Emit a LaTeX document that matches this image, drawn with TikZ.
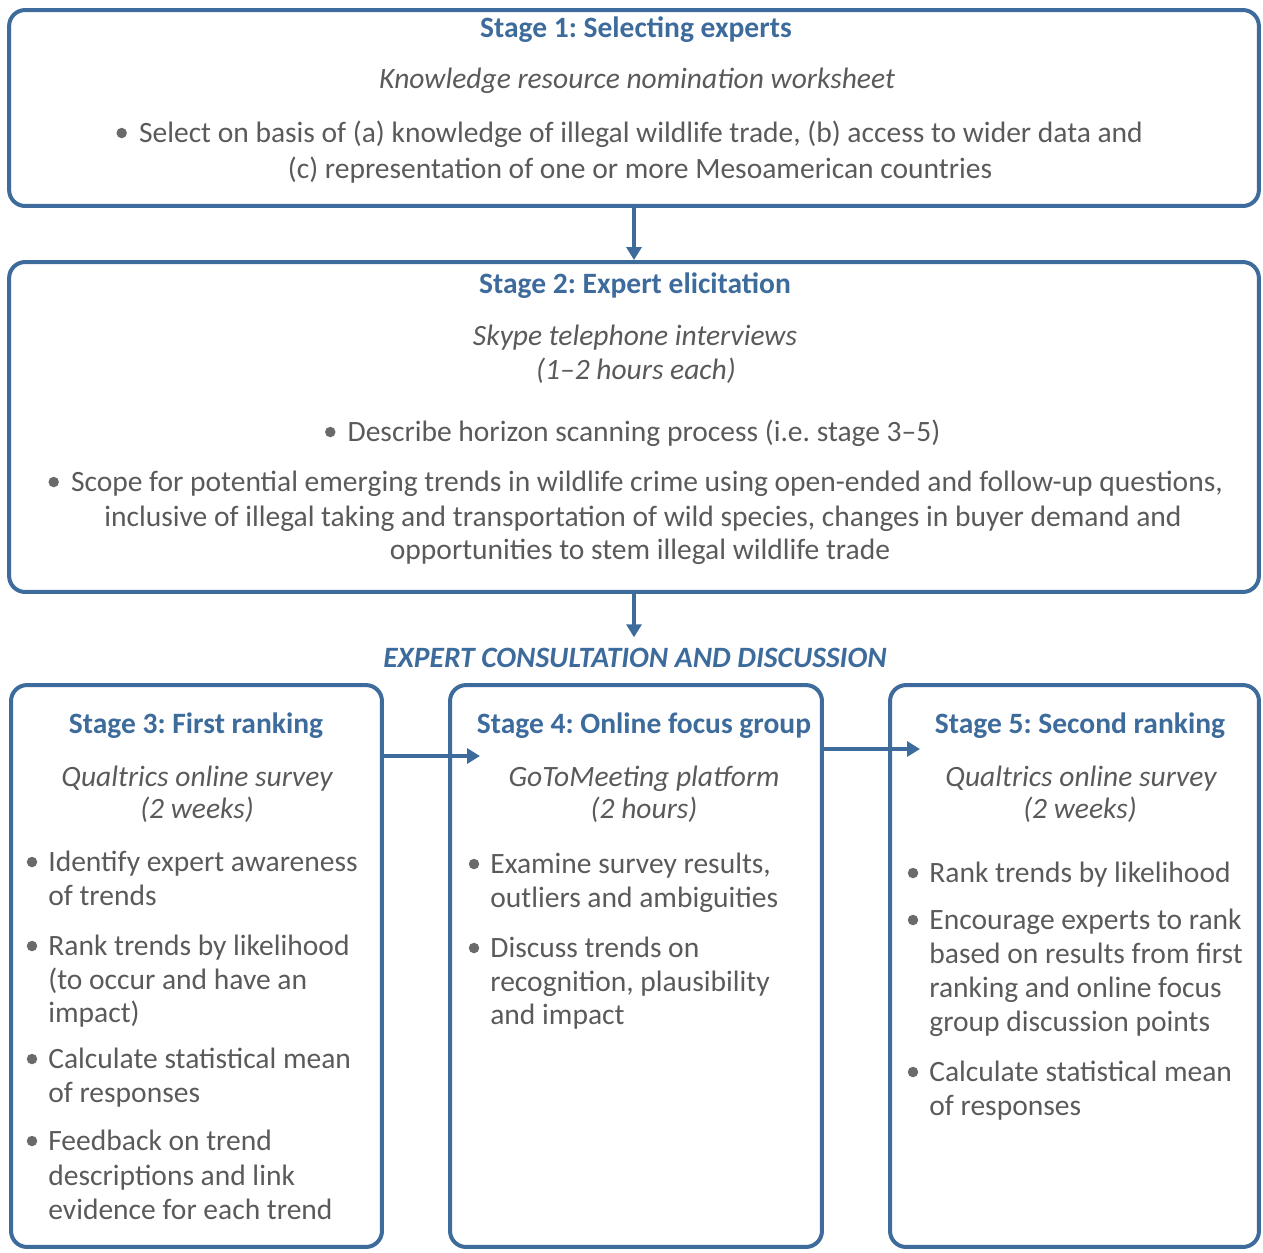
\documentclass[tikz,border=0pt]{standalone}
\usepackage{fontspec}
\setmainfont{Carlito}
\frenchspacing
\usetikzlibrary{arrows.meta,calc}
\definecolor{stageblue}{HTML}{3D6B9C}
\definecolor{textgrey}{HTML}{5A5A5A}
\definecolor{dotgrey}{HTML}{6A6A6A}
\newcommand{\boxfont}{\fontsize{16.8}{20}\selectfont}
\tikzset{
  stagebox/.style={draw=stageblue, line width=0.08cm, rounded corners=0.32cm, inner sep=0pt},
  stagetitle/.style={anchor=base, inner sep=0pt, text=stageblue, font=\bfseries\boxfont},
  method/.style={anchor=base, inner sep=0pt, text=textgrey, font=\itshape\boxfont},
  line/.style={anchor=base west, inner sep=0pt, text=textgrey, font=\boxfont},
  cline/.style={line, anchor=base},
  flow/.style={-{Triangle[length=0.26cm,width=0.3cm]}, line width=0.08cm, draw=stageblue},
}

\begin{document}
\begin{tikzpicture}[x=0.02cm, y=-0.02cm]

\useasboundingbox (0,0) rectangle (1263,1252);

%%%%%%%%%%%%%%
% Boxes
%%%%%%%%%%%%%%
  \node[stagebox, minimum width=25cm, minimum height=3.92cm] (s1) at (634,108) {};
  \node[stagebox, minimum width=25cm, minimum height=6.6cm] (s2) at (634,427) {};
  \node[stagebox, minimum width=7.42cm, minimum height=11.24cm] (s3) at (196.5,966) {};
  \node[stagebox, minimum width=7.44cm, minimum height=11.24cm] (s4) at (636,966) {};
  \node[stagebox, minimum width=7.38cm, minimum height=11.24cm] (s5) at (1074.5,966) {};

%%%%%%%%%%%%%%
% Stage 1
%%%%%%%%%%%%%%
  \node[stagetitle] (t1) at (636,37) {Stage 1: Selecting experts};
  \node[method] (m1) at (637,88) {Knowledge resource nomination worksheet};
  \node[cline] (b1-1) at (641,142)
        {Select on basis of (a) knowledge of illegal wildlife trade, (b) access to wider data and};
  \node[cline] (b1-2) at (640,178) {(c) representation of one or more Mesoamerican countries};

  % dots
  \fill[dotgrey] ($(b1-1.base west)+(-17,-9)$) circle (0.105cm);

%%%%%%%%%%%%%%
% Stage 2
%%%%%%%%%%%%%%
  \node[stagetitle] (t2) at (635,293) {Stage 2: Expert elicitation};
  \node[method] (m2) at (635,345) {Skype telephone interviews};
  \node[method] (m2b) at (636,379) {(1--2 hours each)};
  \node[cline] (b2-1) at (644,441) {Describe horizon scanning process (i.e. stage 3--5)};
  \node[cline] (b2-2) at (647,491)
        {Scope for potential emerging trends in wildlife crime using open-ended and follow-up questions,};
  \node[cline] (b2-3) at (643,526)
        {inclusive of illegal taking and transportation of wild species, changes in buyer demand and};
  \node[cline] (b2-4) at (640,559) {opportunities to stem illegal wildlife trade};

  % dots
  \fill[dotgrey] ($(b2-1.base west)+(-17,-9)$) circle (0.105cm);
  \fill[dotgrey] ($(b2-2.base west)+(-17,-9)$) circle (0.105cm);

%%%%%%%%%%%%%%
% Expert consultation
%%%%%%%%%%%%%%
  \node[stagetitle, font=\bfseries\itshape\boxfont] (phase) at (635,667)
        {EXPERT CONSULTATION AND DISCUSSION};

% Stage 3
  \node[stagetitle] (t3) at (196,733) {Stage 3: First ranking};
  \node[method] (m3) at (197,786) {Qualtrics online survey};
  \node[method] (m3b) at (197,818) {(2 weeks)};
  \foreach \n/\y/\t in {1/871/Identify expert awareness, 2/905/of trends,
      3/955/Rank trends by likelihood, 4/989/(to occur and have an, 5/1022/impact),
      6/1068/Calculate statistical mean, 7/1102/of responses, 8/1150/Feedback on trend,
      9/1185/descriptions and link, 10/1219/evidence for each trend}
    \node[line] (b3-\n) at (48,\y) {\t};

  % dots
  \foreach \n in {1,3,6,8}
    \fill[dotgrey] ($(b3-\n.base west)+(-16,-9)$) circle (0.105cm);

% Stage 4
  \node[stagetitle] (t4) at (644,733) {Stage 4: Online focus group};
  \node[method] (m4) at (644,786) {GoToMeeting platform};
  \node[method] (m4b) at (644,818) {(2 hours)};
  \foreach \n/\y/\t in {1/873/{Examine survey results,}, 2/907/outliers and ambiguities,
      3/957/Discuss trends on, 4/991/{recognition, plausibility}, 5/1024/and impact}
    \node[line] (b4-\n) at (490,\y) {\t};

  % dots
  \foreach \n in {1,3}
    \fill[dotgrey] ($(b4-\n.base west)+(-16,-9)$) circle (0.105cm);

% Stage 5
  \node[stagetitle] (t5) at (1080,733) {Stage 5: Second ranking};
  \node[method] (m5) at (1081,786) {Qualtrics online survey};
  \node[method] (m5b) at (1080,818) {(2 weeks)};
  \foreach \n/\y/\t in {1/882/Rank trends by likelihood, 2/929/Encourage experts to rank,
      3/963/based on results from first, 4/997/ranking and online focus,
      5/1031/group discussion points, 6/1081/Calculate statistical mean,
      7/1115/of responses}
    \node[line] (b5-\n) at (929,\y) {\t};

  % dots
  \foreach \n in {1,2,6}
    \fill[dotgrey] ($(b5-\n.base west)+(-16,-9)$) circle (0.105cm);

%%%%%%%%%%%%%%
% Arrows
%%%%%%%%%%%%%%
  \coordinate (in4) at (480,756);
  \coordinate (in5) at (920,749);

  \draw[flow] (s1.south) -> (s2.north);
  \draw[flow] (s2.south) -> ($(s2.south |- phase.north)+(0,-10)$);
  \draw[flow] (s3.east |- in4) -> (in4);
  \draw[flow] (s4.east |- in5) -> (in5);

\end{tikzpicture}
\end{document}
